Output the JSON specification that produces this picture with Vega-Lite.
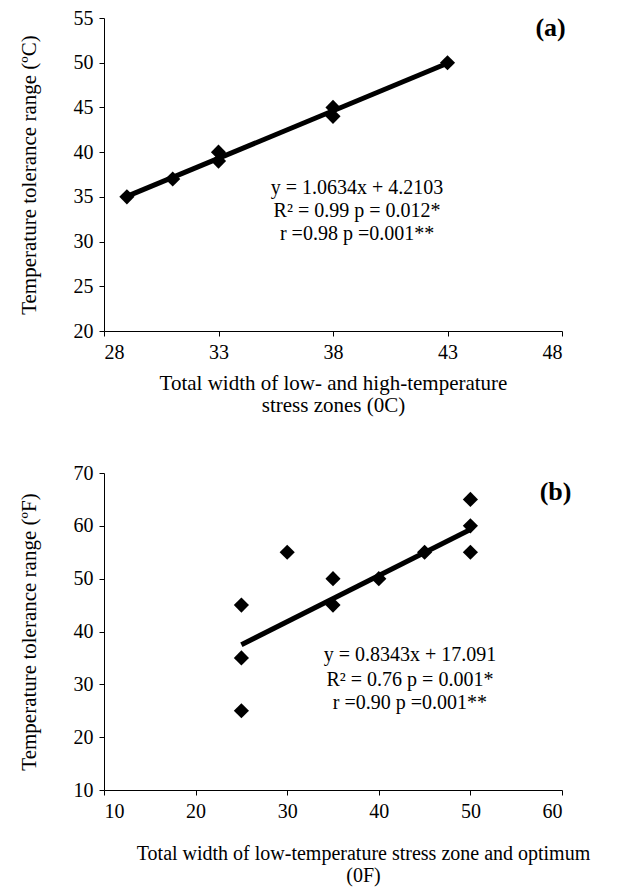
{
  "$schema": "https://vega.github.io/schema/vega-lite/v6.json",
  "padding": {"left": 18, "top": 8, "right": 5, "bottom": 3},
  "spacing": 48,
  "config": {
    "font": "Liberation Serif",
    "view": {"stroke": null},
    "axis": {
      "grid": false,
      "domainColor": "#000",
      "tickColor": "#000",
      "labelColor": "#000",
      "titleColor": "#000",
      "labelFont": "Liberation Serif",
      "titleFont": "Liberation Serif",
      "labelFontSize": 20,
      "titleFontSize": 21,
      "titleFontWeight": "normal",
      "titleLineHeight": 22,
      "tickSize": 5,
      "domainWidth": 1,
      "tickWidth": 1,
      "labelPadding": 6
    }
  },
  "datasets": {
    "ptsA": [
      {"x": 29, "y": 35}, {"x": 31, "y": 37}, {"x": 33, "y": 40}, {"x": 33, "y": 39},
      {"x": 38, "y": 45}, {"x": 38, "y": 44}, {"x": 43, "y": 50}
    ],
    "fitA": [{"x": 29, "y": 35.05}, {"x": 43, "y": 49.94}],
    "ptsB": [
      {"x": 25, "y": 45}, {"x": 25, "y": 35}, {"x": 25, "y": 25}, {"x": 30, "y": 55},
      {"x": 35, "y": 50}, {"x": 35, "y": 45}, {"x": 40, "y": 50}, {"x": 45, "y": 55},
      {"x": 50, "y": 65}, {"x": 50, "y": 60}, {"x": 50, "y": 55}
    ],
    "fitB": [{"x": 25, "y": 37.5}, {"x": 50, "y": 59.3}],
    "annA": [
      {"x": 39.05, "y": 36.0, "label": "y  = 1.0634x + 4.2103"},
      {"x": 39.05, "y": 33.4, "label": "R² = 0.99 p = 0.012*"},
      {"x": 39.05, "y": 30.9, "label": "r =0.98 p =0.001**"}
    ],
    "annB": [
      {"x": 43.4, "y": 35.6, "label": "y = 0.8343x + 17.091"},
      {"x": 43.4, "y": 30.9, "label": "R² = 0.76 p = 0.001*"},
      {"x": 43.4, "y": 26.5, "label": "r =0.90 p =0.001**"}
    ],
    "tagA": [{"x": 47.5, "y": 53.9, "label": "(a)"}],
    "tagB": [{"x": 59.3, "y": 66.4, "label": "(b)"}]
  },
  "vconcat": [
    {
      "width": 458,
      "height": 313,
      "encoding": {
        "x": {
          "field": "x", "type": "quantitative",
          "scale": {"domain": [28, 48], "nice": false, "zero": false},
          "axis": {
            "values": [28, 33, 38, 43, 48],
            "title": ["Total width of low- and high-temperature", "stress zones (0C)"],
            "titlePadding": 10
          }
        },
        "y": {
          "field": "y", "type": "quantitative",
          "scale": {"domain": [20, 55], "nice": false, "zero": false},
          "axis": {
            "values": [20, 25, 30, 35, 40, 45, 50, 55],
            "title": "Temperature tolerance range (ºC)",
            "titlePadding": 34
          }
        }
      },
      "layer": [
        {"data": {"name": "fitA"}, "mark": {"type": "line", "color": "#000", "strokeWidth": 5}},
        {"data": {"name": "ptsA"}, "mark": {"type": "point", "shape": "diamond", "filled": true, "color": "#000", "opacity": 1, "size": 230}},
        {"data": {"name": "annA"}, "mark": {"type": "text", "fontSize": 20, "align": "center", "baseline": "middle", "color": "#000"}, "encoding": {"text": {"field": "label"}}},
        {"data": {"name": "tagA"}, "mark": {"type": "text", "fontSize": 26, "fontWeight": "bold", "align": "center", "baseline": "middle", "color": "#000", "clip": false}, "encoding": {"text": {"field": "label"}}}
      ]
    },
    {
      "width": 458,
      "height": 317,
      "encoding": {
        "x": {
          "field": "x", "type": "quantitative",
          "scale": {"domain": [10, 60], "nice": false, "zero": false},
          "axis": {
            "values": [10, 20, 30, 40, 50, 60],
            "title": ["Total width of low-temperature stress zone and optimum", "(0F)"],
            "titleFontSize": 20,
            "titlePadding": 22,
            "titleX": 259
          }
        },
        "y": {
          "field": "y", "type": "quantitative",
          "scale": {"domain": [10, 70], "nice": false, "zero": false},
          "axis": {
            "values": [10, 20, 30, 40, 50, 60, 70],
            "title": "Temperature tolerance range (ºF)",
            "titlePadding": 34
          }
        }
      },
      "layer": [
        {"data": {"name": "fitB"}, "mark": {"type": "line", "color": "#000", "strokeWidth": 5}},
        {"data": {"name": "ptsB"}, "mark": {"type": "point", "shape": "diamond", "filled": true, "color": "#000", "opacity": 1, "size": 230}},
        {"data": {"name": "annB"}, "mark": {"type": "text", "fontSize": 20, "align": "center", "baseline": "middle", "color": "#000"}, "encoding": {"text": {"field": "label"}}},
        {"data": {"name": "tagB"}, "mark": {"type": "text", "fontSize": 26, "fontWeight": "bold", "align": "center", "baseline": "middle", "color": "#000", "clip": false}, "encoding": {"text": {"field": "label"}}}
      ]
    }
  ]
}
